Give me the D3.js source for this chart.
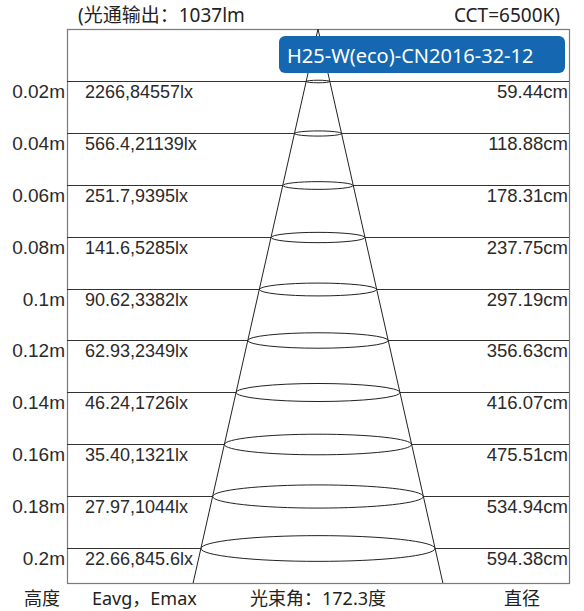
<!DOCTYPE html>
<html>
<head>
<meta charset="utf-8">
<script src="https://cdn.jsdelivr.net/npm/d3@7/dist/d3.min.js"></script>
<style>
  body { margin: 0; background: #fff; }
  text { font-family: "Noto Sans", "Noto Sans CJK SC", sans-serif; fill: #222; }
  text.cell { font-family: "Liberation Sans", Arial, sans-serif; fill: #2a2a2a; }
</style>
</head>
<body>
<svg id="chart" width="584" height="611"></svg>
<script>
// ---- data ----
var heights = [0.02, 0.04, 0.06, 0.08, 0.1, 0.12, 0.14, 0.16, 0.18, 0.2];
var heightLabels = ['0.02m', '0.04m', '0.06m', '0.08m', '0.1m', '0.12m', '0.14m', '0.16m', '0.18m', '0.2m'];
var eavg = ['2266', '566.4', '251.7', '141.6', '90.62', '62.93', '46.24', '35.40', '27.97', '22.66'];
var emax = ['84557', '21139', '9395', '5285', '3382', '2349', '1726', '1321', '1044', '845.6'];
var diameters = [59.44, 118.88, 178.31, 237.75, 297.19, 356.63, 416.07, 475.51, 534.94, 594.38];
var lumen = '1037lm';
var cct = '6500K';
var beamAngle = '172.3';
var modelName = 'H25-W(eco)-CN2016-32-12';

var svg = d3.select('#chart');

// frame boundaries
var frameL = 67, frameR = 569, frameT = 29, frameB = 583;
var centerX = 318;

// height -> y
var yScale = d3.scaleLinear()
  .domain([0, 0.2])
  .range([frameT, 548]);

// radius (cm) -> x offset
var rScale = d3.scaleLinear()
  .domain([0, 297.19])
  .range([0, 117]);

// cone grows linearly with height
var ratio = (diameters[diameters.length - 1] / 2) / heights[heights.length - 1];
var bottomH = yScale.invert(frameB);

// frame
svg.append('rect')
  .attr('x', frameL + 0.5)
  .attr('y', frameT + 0.5)
  .attr('width', frameR - frameL)
  .attr('height', frameB - frameT)
  .attr('fill', 'none')
  .attr('stroke', '#7a7a7a')
  .attr('stroke-width', 1.2);

// row lines
svg.selectAll('line.row')
  .data(heights)
  .enter()
  .append('line')
  .attr('class', 'row')
  .attr('x1', frameL)
  .attr('x2', frameR)
  .attr('y1', function (d) { return Math.round(yScale(d)) + 0.5; })
  .attr('y2', function (d) { return Math.round(yScale(d)) + 0.5; })
  .attr('stroke', '#333')
  .attr('stroke-width', 1);

// light spot ellipses
svg.selectAll('ellipse')
  .data(heights)
  .enter()
  .append('ellipse')
  .attr('cx', centerX)
  .attr('cy', function (d) { return Math.round(yScale(d)) + 0.5; })
  .attr('rx', function (d) { return rScale(d * ratio); })
  .attr('ry', function (d) { return rScale(d * ratio) * 0.11; })
  .attr('fill', '#fff')
  .attr('stroke', '#222')
  .attr('stroke-width', 1);

// cone edges
[-1, 1].forEach(function (s) {
  svg.append('line')
    .attr('x1', centerX)
    .attr('y1', yScale(0))
    .attr('x2', centerX + s * rScale(bottomH * ratio))
    .attr('y2', frameB)
    .attr('stroke', '#222')
    .attr('stroke-width', 1);
});

// height labels
svg.selectAll('text.h')
  .data(heightLabels)
  .enter()
  .append('text')
  .attr('class', 'h cell')
  .attr('x', 65)
  .attr('y', function (d, i) { return yScale(heights[i]) + 17; })
  .attr('text-anchor', 'end')
  .style('font-size', '19px')
  .text(function (d) { return d; });

// illuminance labels
svg.selectAll('text.lx')
  .data(eavg)
  .enter()
  .append('text')
  .attr('class', 'lx cell')
  .attr('x', 85)
  .attr('y', function (d, i) { return yScale(heights[i]) + 17; })
  .style('font-size', '18px')
  .text(function (d, i) { return d + ',' + emax[i] + 'lx'; });

// diameter labels
svg.selectAll('text.dia')
  .data(diameters)
  .enter()
  .append('text')
  .attr('class', 'dia cell')
  .attr('x', 568)
  .attr('y', function (d, i) { return yScale(heights[i]) + 17; })
  .attr('text-anchor', 'end')
  .style('font-size', '18.5px')
  .text(function (d) { return d.toFixed(2) + 'cm'; });

// header
svg.append('text')
  .attr('x', 78)
  .attr('y', 22)
  .style('font-size', '19px')
  .text('(光通输出：' + lumen);

svg.append('text')
  .attr('x', 560)
  .attr('y', 22)
  .attr('text-anchor', 'end')
  .style('font-size', '19px')
  .text('CCT=' + cct + ')');

// model badge
svg.append('rect')
  .attr('x', 279)
  .attr('y', 36)
  .attr('width', 286)
  .attr('height', 37)
  .attr('rx', 6)
  .attr('fill', '#1467b0');

svg.append('text')
  .attr('x', 287)
  .attr('y', 63)
  .style('font-size', '20px')
  .style('fill', '#fff')
  .text(modelName);

// footer
svg.append('text')
  .attr('x', 42)
  .attr('y', 605)
  .attr('text-anchor', 'middle')
  .style('font-size', '18px')
  .text('高度');

svg.append('text')
  .attr('x', 92)
  .attr('y', 605)
  .style('font-size', '18px')
  .text('Eavg，Emax');

svg.append('text')
  .attr('x', 250)
  .attr('y', 605)
  .style('font-size', '18px')
  .text('光束角：' + beamAngle + '度');

svg.append('text')
  .attr('x', 522)
  .attr('y', 605)
  .attr('text-anchor', 'middle')
  .style('font-size', '18px')
  .text('直径');
</script>
</body>
</html>
